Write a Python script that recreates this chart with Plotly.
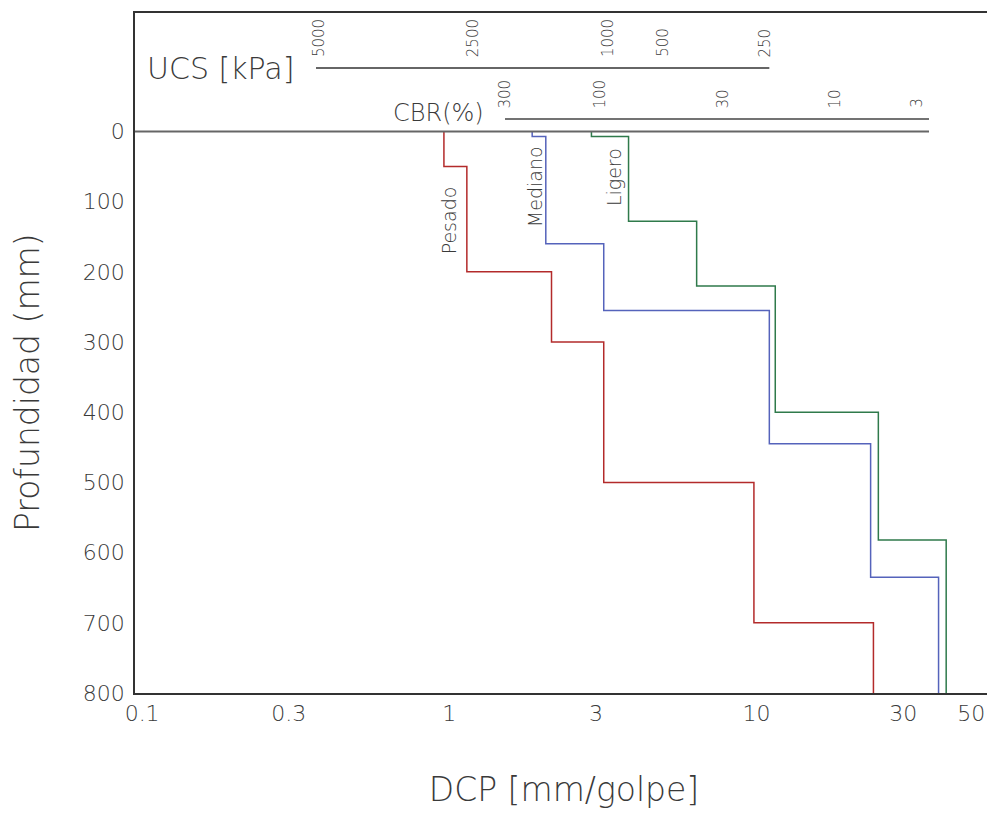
import math
import plotly.graph_objects as go

# ---------------- data ----------------
depth_max = 800
pesado_top = [0, 50, 200, 300, 500, 700]
pesado_dcp = [0.96, 1.14, 2.15, 3.18, 9.8, 24.0]
mediano_top = [0, 7, 160, 255, 445, 635]
mediano_dcp = [1.86, 2.06, 3.18, 11.0, 23.5, 39.1]
ligero_top = [0, 7, 128, 220, 400, 582]
ligero_dcp = [2.9, 3.83, 6.38, 11.5, 24.9, 41.4]

x_tickvals = [0.1, 0.3, 1, 3, 10, 30, 50]
x_ticktext = ["0.1", "0.3", "1", "3", "10", "30", "50"]
y_tickvals = [0, 100, 200, 300, 400, 500, 600, 700, 800]

ucs_labels = ["5000", "2500", "1000", "500", "250"]
cbr_labels = ["300", "100", "30", "10", "3"]

# ---------------- positions (DCP-equivalent) ----------------
ucs_pos = [0.376, 1.194, 3.28, 4.96, 10.64]
cbr_pos = [1.517, 3.09, 7.77, 17.98, 33.2]
ucs_line = [0.368, 11.0]
cbr_line = [1.517, 36.4]
zero_line = [0.0948, 36.4]
ucs_line_y, ucs_lab_y = -90.5, -103
cbr_line_y, cbr_lab_y = -17.8, -30.5
x_range = [math.log10(0.0948), math.log10(58.8)]
y_range = [800, -168.8]

TXT = "#3a3a3a"
FONT = "DejaVu Sans"

fig = go.Figure()

def step(tops, vals, name, color):
    xs = list(vals) + [vals[-1]]
    ys = list(tops) + [depth_max]
    fig.add_trace(go.Scatter(x=xs, y=ys, mode="lines", name=name,
                             line=dict(color=color, width=1.5, shape="vh"),
                             showlegend=False))

step(pesado_top, pesado_dcp, "Pesado", "#b32b2b")
step(mediano_top, mediano_dcp, "Mediano", "#5563bb")
step(ligero_top, ligero_dcp, "Ligero", "#2f7a4b")

def hline(xs, y, color, width):
    fig.add_trace(go.Scatter(x=xs, y=[y, y], mode="lines", hoverinfo="skip",
                             line=dict(color=color, width=width), showlegend=False))

hline(zero_line, 0, "#666666", 2)
hline(ucs_line, ucs_line_y, "#333333", 1.5)
hline(cbr_line, cbr_line_y, "#444444", 1.5)

for lab, p in zip(ucs_labels, ucs_pos):
    fig.add_annotation(x=math.log10(p), y=ucs_lab_y, xref="x", yref="y", text=lab,
                       textangle=-90, showarrow=False, xanchor="center", yanchor="bottom",
                       font=dict(family=FONT, size=15, color=TXT, weight=200))
for lab, p in zip(cbr_labels, cbr_pos):
    fig.add_annotation(x=math.log10(p), y=cbr_lab_y, xref="x", yref="y", text=lab,
                       textangle=-90, showarrow=False, xanchor="center", yanchor="bottom",
                       font=dict(family=FONT, size=15, color=TXT, weight=200))

fig.add_annotation(x=math.log10(0.18), y=-90, xref="x", yref="y", text="UCS [kPa]",
                   showarrow=False, xanchor="center", yanchor="middle",
                   font=dict(family=FONT, size=30, color=TXT, weight=200))
fig.add_annotation(x=math.log10(0.92), y=-26, xref="x", yref="y", text="CBR(%)",
                   showarrow=False, xanchor="center", yanchor="middle",
                   font=dict(family=FONT, size=24, color=TXT, weight=200))

curve_names = ["Pesado", "Mediano", "Ligero"]
curve_lab_x = [0.993, 1.899, 3.434]
curve_lab_y = [126, 78, 65]
for t, xv, yv in zip(curve_names, curve_lab_x, curve_lab_y):
    fig.add_annotation(x=math.log10(xv), y=yv, xref="x", yref="y", text=t,
                       textangle=-90, showarrow=False,
                       font=dict(family=FONT, size=19, color=TXT, weight=200))

# figure sits inside the page's 8px body margin
fig.add_annotation(x=(27 - 8 - 127) / 858, y=(685 - 375) / 680, xref="paper", yref="paper",
                   text="Profundidad (mm)", textangle=-90, showarrow=False,
                   xanchor="center", yanchor="middle",
                   font=dict(family=FONT, size=33, color=TXT, weight=200))

fig.update_xaxes(type="log", range=x_range, tickvals=x_tickvals, ticktext=x_ticktext,
                 showgrid=False, zeroline=False, showline=True, mirror=True,
                 linecolor="#333333", linewidth=1.5, ticks="", automargin=False,
                 tickfont=dict(family=FONT, size=22, color=TXT, weight=200),
                 title=dict(text="DCP [mm/golpe]", standoff=69,
                            font=dict(family=FONT, size=33, color=TXT, weight=200)))
fig.update_yaxes(range=y_range, tickvals=y_tickvals, showgrid=False, zeroline=False,
                 showline=True, linecolor="#333333", linewidth=1.5, ticks="",
                 ticklabelstandoff=4, automargin=False,
                 tickfont=dict(family=FONT, size=22, color=TXT, weight=200))

fig.update_layout(width=987, height=801, margin=dict(l=127, r=2, t=5, b=116),
                  plot_bgcolor="white", paper_bgcolor="white", showlegend=False)

fig.write_html("out.html")
